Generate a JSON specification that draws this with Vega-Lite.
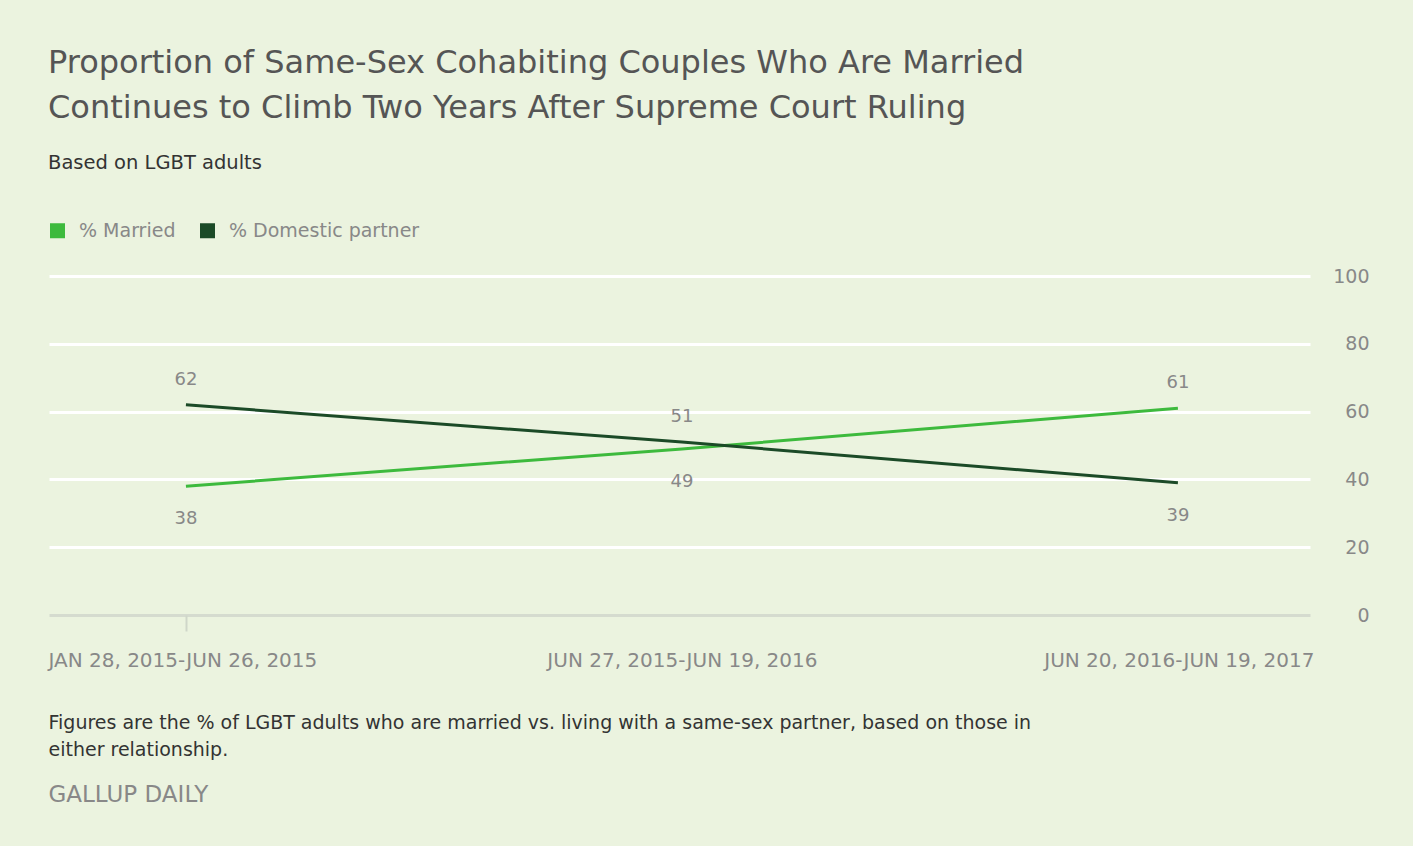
{
  "$schema": "https://vega.github.io/schema/vega-lite/v6.json",
  "autosize": {"type": "none"},
  "width": 1261,
  "height": 339,
  "padding": {"left": 49, "top": 276, "right": 103, "bottom": 231},
  "background": "#ebf3df",
  "config": {"view": {"stroke": null}, "font": "DejaVu Sans"},
  "title": {
    "text": ["Proportion of Same-Sex Cohabiting Couples Who Are Married", "Continues to Climb Two Years After Supreme Court Ruling"],
    "subtitle": "Based on LGBT adults",
    "anchor": "start",
    "frame": "group",
    "fontSize": 32,
    "fontWeight": "normal",
    "color": "#555555",
    "lineHeight": 45,
    "subtitleFontSize": 19.5,
    "subtitleColor": "#333333",
    "subtitlePadding": 29,
    "offset": 48,
    "dx": -1
  },
  "data": {
    "values": [
      {"period": "JAN 28, 2015-JUN 26, 2015", "series": "% Married", "value": 38},
      {"period": "JUN 27, 2015-JUN 19, 2016", "series": "% Married", "value": 49},
      {"period": "JUN 20, 2016-JUN 19, 2017", "series": "% Married", "value": 61},
      {"period": "JAN 28, 2015-JUN 26, 2015", "series": "% Domestic partner", "value": 62},
      {"period": "JUN 27, 2015-JUN 19, 2016", "series": "% Domestic partner", "value": 51},
      {"period": "JUN 20, 2016-JUN 19, 2017", "series": "% Domestic partner", "value": 39}
    ]
  },
  "encoding": {
    "x": {
      "field": "period",
      "type": "ordinal",
      "sort": null,
      "scale": {"type": "point", "padding": 0.2712, "align": 0.509},
      "axis": {
        "title": ["Figures are the % of LGBT adults who are married vs. living with a same-sex partner, based on those in", "either relationship."],
        "titleAnchor": "start",
        "titleAlign": "left",
        "titleX": -1,
        "titleY": 98,
        "titleBaseline": "top",
        "titleFontSize": 19,
        "titleFontWeight": "normal",
        "titleColor": "#333333",
        "titleLineHeight": 27,
        "titleLimit": 0,
        "labelAngle": 0,
        "labelFontSize": 20,
        "labelColor": "#888888",
        "labelPadding": 19,
        "labelLimit": 0,
        "labelBaseline": "top",
        "labelAlign": {"expr": "datum.index == 0 ? 'left' : datum.index == 1 ? 'right' : 'center'"},
        "labelOffset": {"expr": "datum.index == 0 ? -138 : datum.index == 1 ? 136 : 0"},
        "domain": false,
        "grid": false,
        "tickSize": 16,
        "tickWidth": 2,
        "tickColor": "#cfd6c9",
        "tickOpacity": {"expr": "datum.index == 0 ? 1 : 0"}
      }
    },
    "y": {
      "field": "value",
      "type": "quantitative",
      "scale": {"domain": [0, 100], "nice": false},
      "axis": {
        "orient": "right",
        "values": [0, 20, 40, 60, 80, 100],
        "domain": false,
        "ticks": false,
        "labelAlign": "right",
        "labelPadding": 59,
        "labelFontSize": 19,
        "labelColor": "#888888",
        "labelBaseline": "middle",
        "grid": true,
        "gridColor": {"condition": {"test": "datum.value == 0", "value": "#d5dbcf"}, "value": "#ffffff"},
        "gridWidth": 3,
        "title": "GALLUP DAILY",
        "titleAngle": 0,
        "titleX": -1262,
        "titleY": 525,
        "titleAlign": "left",
        "titleBaseline": "alphabetic",
        "titleFontSize": 23,
        "titleFontWeight": "normal",
        "titleColor": "#888888"
      }
    }
  },
  "layer": [
    {
      "mark": {"type": "line", "strokeWidth": 3},
      "encoding": {
        "color": {
          "field": "series",
          "type": "nominal",
          "scale": {"domain": ["% Married", "% Domestic partner"], "range": ["#3dba3d", "#1b4a27"]},
          "legend": {
            "orient": "none",
            "legendX": -1,
            "legendY": -55,
            "direction": "horizontal",
            "title": null,
            "symbolType": "square",
            "symbolSize": 225,
            "symbolStrokeWidth": 0,
            "labelFontSize": 19,
            "labelColor": "#888888",
            "labelOffset": 12,
            "labelLimit": 0,
            "columnPadding": 22,
            "encode": {"symbols": {"update": {"fill": {"scale": "color", "field": "value"}, "fillOpacity": {"value": 1}}}}
          }
        }
      }
    },
    {
      "transform": [
        {"joinaggregate": [{"op": "max", "field": "value", "as": "maxv"}], "groupby": ["period"]},
        {"filter": "datum.value == datum.maxv"}
      ],
      "mark": {"type": "text", "dy": -25, "fontSize": 18, "color": "#888888", "baseline": "middle"},
      "encoding": {"text": {"field": "value", "type": "quantitative"}}
    },
    {
      "transform": [
        {"joinaggregate": [{"op": "max", "field": "value", "as": "maxv"}], "groupby": ["period"]},
        {"filter": "datum.value < datum.maxv"}
      ],
      "mark": {"type": "text", "dy": 33, "fontSize": 18, "color": "#888888", "baseline": "middle"},
      "encoding": {"text": {"field": "value", "type": "quantitative"}}
    }
  ]
}
